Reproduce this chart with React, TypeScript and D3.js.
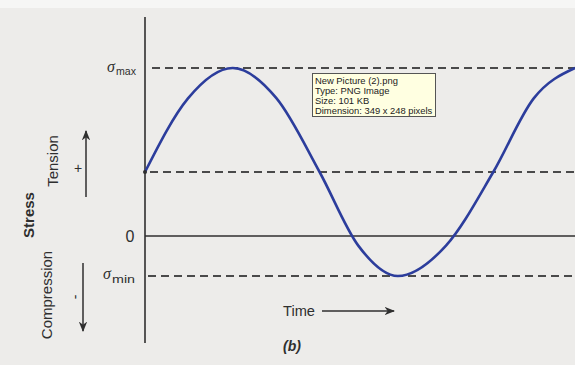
import * as d3 from 'd3';

// stress levels (arbitrary units, 0 = zero stress)
const stressMax = 4.2;
const stressMean = 1.6;
const stressMin = -1.0;

// points: time (quarter periods) and stress
const cycleTime = [0, 0.5, 1.02, 1.53, 2.03, 2.48, 2.94, 3.5, 4.05, 4.52, 5.0];
const cycleStress = [1.6, 3.44, 4.2, 3.44, 1.6, -0.24, -1.0, -0.24, 1.6, 3.44, 4.2];

const tooltipLines = [
  'New Picture (2).png',
  'Type: PNG Image',
  'Size: 101 KB',
  'Dimension: 349 x 248 pixels',
];

const W = 575;
const H = 365;
const ink = '#2f2f2f';
const dash = '#4a4a4a';
const blue = '#2c3d9c';
const sans = "'Liberation Sans', Arial, sans-serif";
const serif = "'Liberation Serif', 'DejaVu Serif', serif";

export default function App() {
  const x = d3.scaleLinear().domain([0, 5]).range([145, 575]);
  const y = d3.scaleLinear().domain([0, 1]).range([236, 196]);

  const pts = cycleTime.map((t, i) => [t, cycleStress[i]] as [number, number]);
  const line = d3
    .line<[number, number]>()
    .x(d => x(d[0]))
    .y(d => y(d[1]))
    .curve(d3.curveMonotoneX);

  const dashedLevels = [
    { v: stressMax, x0: 152 },
    { v: stressMean, x0: 150 },
    { v: stressMin, x0: 148 },
  ];

  return (
    <svg
      width={W}
      height={H}
      style={{ position: 'absolute', left: 0, top: 0, display: 'block' }}
      fontFamily={sans}
    >
      <defs>
        <marker id="head" viewBox="0 0 10 10" refX="9" refY="5" markerWidth="7" markerHeight="7" orient="auto">
          <path d="M0,1 L10,5 L0,9 L3,5 z" fill={ink} />
        </marker>
      </defs>
      <rect width={W} height={H} fill="#edecea" />
      <rect width={W} height={8} fill="#f6f6f5" />

      {/* dashed stress levels */}
      {dashedLevels.map(d => (
        <line
          key={d.v}
          x1={d.x0}
          x2={W}
          y1={y(d.v)}
          y2={y(d.v)}
          stroke={dash}
          strokeWidth={2.2}
          strokeDasharray="8,5"
        />
      ))}

      {/* zero line and stress axis */}
      <line x1={145} x2={W} y1={y(0)} y2={y(0)} stroke={ink} strokeWidth={1.4} />
      <line x1={145} x2={145} y1={17} y2={343} stroke={ink} strokeWidth={1.6} />

      {/* stress cycle */}
      <path d={line(pts) ?? ''} fill="none" stroke={blue} strokeWidth={2.6} />
      <circle cx={x(0)} cy={y(stressMean)} r={2} fill={ink} />

      {/* level labels */}
      <text x={107} y={y(stressMax) + 4} fontFamily={serif} fontStyle="italic" fontSize={16} fill={ink}>σ</text>
      <text x={116} y={y(stressMax) + 7} fontSize={11.5} fill={ink} textLength={20} lengthAdjust="spacingAndGlyphs">max</text>
      <text x={103} y={y(stressMin) + 3} fontFamily={serif} fontStyle="italic" fontSize={16} fill={ink}>σ</text>
      <text x={112} y={y(stressMin) + 7} fontSize={11.5} fill={ink} textLength={23} lengthAdjust="spacingAndGlyphs">min</text>
      <text x={130} y={y(0) + 6} fontSize={16} fill={ink} textAnchor="middle">0</text>

      {/* vertical axis titles */}
      <text transform="translate(34,215) rotate(-90)" textAnchor="middle" fontSize={15} fontWeight="bold" fill={ink}>Stress</text>
      <text transform="translate(58,161) rotate(-90)" textAnchor="middle" fontSize={15} fill={ink}>Tension</text>
      <text transform="translate(52,295) rotate(-90)" textAnchor="middle" fontSize={15} fill={ink}>Compression</text>
      <text x={78} y={173} textAnchor="middle" fontSize={14} fill={ink}>+</text>
      <text transform="translate(80,297) rotate(-90)" textAnchor="middle" fontSize={14} fill={ink}>-</text>
      <line x1={86} x2={86} y1={197} y2={131} stroke={ink} strokeWidth={1.5} markerEnd="url(#head)" />
      <line x1={83} x2={83} y1={263} y2={331} stroke={ink} strokeWidth={1.5} markerEnd="url(#head)" />

      {/* time axis label */}
      <text x={283} y={316} fontSize={14} fill={ink} textLength={32} lengthAdjust="spacingAndGlyphs">Time</text>
      <line x1={322} x2={394} y1={311} y2={311} stroke={ink} strokeWidth={1.5} markerEnd="url(#head)" />
      <text x={283} y={351} fontSize={14} fontStyle="italic" fontWeight="bold" fill={ink}>(b)</text>

      {/* file tooltip */}
      <rect x={312.5} y={73.5} width={123} height={43} fill="#ffffe1" stroke="#555" strokeWidth={1} />
      {tooltipLines.map((t, i) => (
        <text key={t} x={315} y={84 + i * 10} fontSize={9.4} fill="#222">{t}</text>
      ))}
    </svg>
  );
}
